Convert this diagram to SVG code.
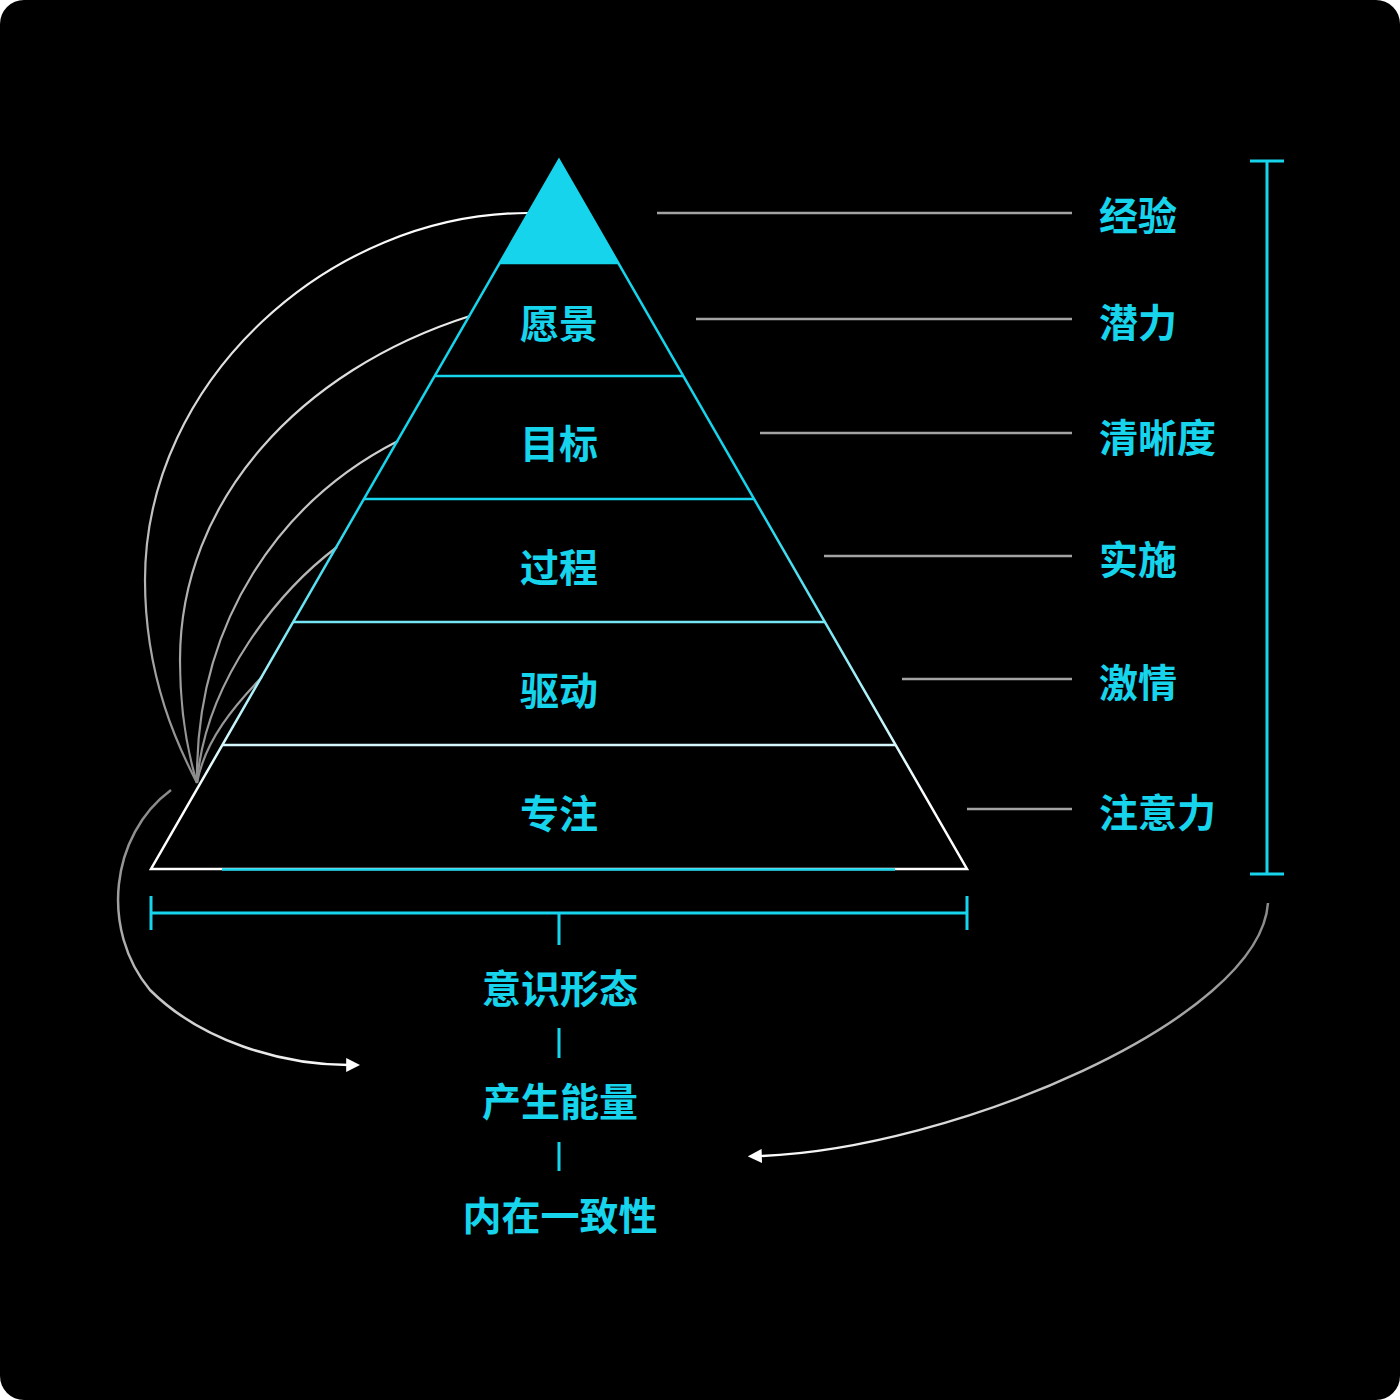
<svg xmlns="http://www.w3.org/2000/svg" width="1400" height="1400" viewBox="0 0 1400 1400">
  <defs>
    <linearGradient id="pyr" gradientUnits="userSpaceOnUse" x1="0" y1="160" x2="0" y2="870">
      <stop offset="0" stop-color="#16d4ec"/>
      <stop offset="0.48" stop-color="#16d4ec"/>
      <stop offset="0.9" stop-color="#ffffff"/>
      <stop offset="1" stop-color="#ffffff"/>
    </linearGradient>
    <linearGradient id="arc" gradientUnits="userSpaceOnUse" x1="0" y1="210" x2="0" y2="790">
      <stop offset="0" stop-color="#ffffff"/>
      <stop offset="1" stop-color="#8a8a8a"/>
    </linearGradient>
    <linearGradient id="arrL" gradientUnits="userSpaceOnUse" x1="171" y1="790" x2="360" y2="1065">
      <stop offset="0" stop-color="#8a8a8a"/>
      <stop offset="1" stop-color="#ffffff"/>
    </linearGradient>
    <linearGradient id="arrR" gradientUnits="userSpaceOnUse" x1="1268" y1="903" x2="757" y2="1156">
      <stop offset="0" stop-color="#8a8a8a"/>
      <stop offset="1" stop-color="#ffffff"/>
    </linearGradient>
    <marker id="head" viewBox="0 0 10 10" refX="2" refY="5" markerWidth="14" markerHeight="14" markerUnits="userSpaceOnUse" orient="auto">
      <path d="M0,0 L10,5 L0,10 Z" fill="#ffffff"/>
    </marker>
    <style>
      .lbl { font-family: "Noto Sans CJK SC", "Noto Sans", sans-serif; font-weight: 700; font-size: 39px; fill: #16d4ec; }
      .mid { text-anchor: middle; }
      .guide { stroke: #a3a3a3; stroke-width: 2.5; fill: none; }
      .cyan { stroke: #16d4ec; stroke-width: 3; fill: none; }
      .arc { stroke: url(#arc); stroke-width: 2.2; fill: none; }
      .pyr { stroke: url(#pyr); stroke-width: 2.5; fill: none; }
    </style>
  </defs>

  <rect x="0" y="0" width="1400" height="1400" fill="#ffffff"/>
  <rect x="0" y="0" width="1400" height="1400" rx="24" fill="#000000"/>

  <g id="connectors">
    <path class="arc" d="M528,213 C330,213 145,380 145,580 C145,680 180,750 197,783"/>
    <path class="arc" d="M470,316 C300,370 180,500 180,660 C180,720 190,760 197,783"/>
    <path class="arc" d="M398,441 C282,500 195,620 197,783"/>
    <path class="arc" d="M337,547 C280,590 205,680 197,783"/>
    <path class="arc" d="M262,677 C235,705 205,740 197,783"/>
    <path d="M171,790 C110,835 100,930 150,990 C200,1040 280,1065 349,1065" stroke="url(#arrL)" stroke-width="2.5" fill="none" marker-end="url(#head)"/>
    <path d="M1268,903 C1260,1020 950,1150 759,1156" stroke="url(#arrR)" stroke-width="2.5" fill="none" marker-end="url(#head)"/>
    <line class="guide" x1="657" y1="213" x2="1072" y2="213"/>
    <line class="guide" x1="696" y1="319" x2="1072" y2="319"/>
    <line class="guide" x1="760" y1="433" x2="1072" y2="433"/>
    <line class="guide" x1="824" y1="556" x2="1072" y2="556"/>
    <line class="guide" x1="902" y1="679" x2="1072" y2="679"/>
    <line class="guide" x1="967" y1="809" x2="1072" y2="809"/>
    <line class="cyan" x1="559" y1="1028" x2="559" y2="1058" stroke-width="2.5"/>
    <line class="cyan" x1="559" y1="1142" x2="559" y2="1171" stroke-width="2.5"/>
  </g>

  <g id="pyramid">
    <polygon points="559,160 618,263 500,263" fill="#16d4ec"/>
    <polygon class="pyr" points="559,160 967,869 151,869" stroke-linejoin="miter"/>
    <line class="pyr" x1="500" y1="263" x2="618" y2="263"/>
    <line class="pyr" x1="435" y1="376" x2="683" y2="376"/>
    <line class="pyr" x1="364" y1="499" x2="754" y2="499"/>
    <line class="pyr" x1="293" y1="622" x2="825" y2="622"/>
    <line class="pyr" x1="222" y1="745" x2="896" y2="745"/>
    <line x1="222" y1="869.5" x2="895" y2="869.5" stroke="#16d4ec" stroke-width="2.5"/>
  </g>

  <g id="node-yuanjing"><text class="lbl mid" x="559" y="338">愿景</text></g>
  <g id="node-mubiao"><text class="lbl mid" x="559" y="458">目标</text></g>
  <g id="node-guocheng"><text class="lbl mid" x="559" y="582">过程</text></g>
  <g id="node-qudong"><text class="lbl mid" x="559" y="705">驱动</text></g>
  <g id="node-zhuanzhu"><text class="lbl mid" x="559" y="828">专注</text></g>

  <g id="node-jingyan"><text class="lbl" x="1099" y="230">经验</text></g>
  <g id="node-qianli"><text class="lbl" x="1099" y="337">潜力</text></g>
  <g id="node-qingxidu"><text class="lbl" x="1099" y="452">清晰度</text></g>
  <g id="node-shishi"><text class="lbl" x="1099" y="574">实施</text></g>
  <g id="node-jiqing"><text class="lbl" x="1099" y="697">激情</text></g>
  <g id="node-zhuyili"><text class="lbl" x="1099" y="827">注意力</text></g>

  <g id="bracket-right">
    <line class="cyan" x1="1267" y1="161" x2="1267" y2="874"/>
    <line class="cyan" x1="1250" y1="161" x2="1284" y2="161"/>
    <line class="cyan" x1="1250" y1="874" x2="1284" y2="874"/>
  </g>
  <g id="bracket-bottom">
    <line class="cyan" x1="151" y1="913" x2="967" y2="913"/>
    <line class="cyan" x1="151" y1="896" x2="151" y2="930"/>
    <line class="cyan" x1="967" y1="896" x2="967" y2="930"/>
    <line class="cyan" x1="559" y1="913" x2="559" y2="945"/>
  </g>

  <g id="node-yishixingtai"><text class="lbl mid" x="560" y="1003">意识形态</text></g>
  <g id="node-chanshengnengliang"><text class="lbl mid" x="560" y="1116">产生能量</text></g>
  <g id="node-neizaiyizhixing"><text class="lbl mid" x="560" y="1230">内在一致性</text></g>
</svg>
